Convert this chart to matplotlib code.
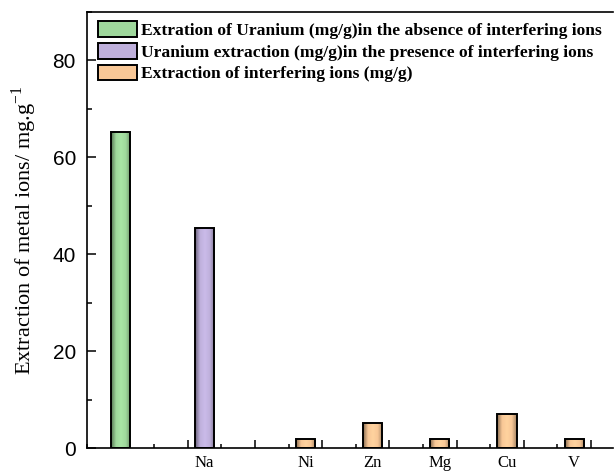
import numpy as np
import matplotlib
matplotlib.use("Agg")
import matplotlib.pyplot as plt
from matplotlib.patches import Patch
from matplotlib.colors import LinearSegmentedColormap
from matplotlib.ticker import MultipleLocator

# extraction values (mg/g)
u_absent = 65.3
u_present = 45.5
ion_names = ["Ni", "Zn", "Mg", "Cu", "V"]
ion_values = [1.8, 5.1, 1.8, 7.0, 1.8]

labels = ["Extration of Uranium (mg/g)in the absence of interfering ions",
          "Uranium extraction (mg/g)in the presence of interfering ions",
          "Extraction of interfering ions (mg/g)"]

green = "#9fd89c"
purple = "#bfb0dc"
orange = "#f8c796"

# slot layout along the x axis
pos_absent = 0.0
pos_present = 2.5
pos_ions = [5.5, 7.5, 9.5, 11.5, 13.5]
width = 0.57


def shaded(ax, bars, color):
    # cylinder-like shading inside each bar
    base = np.array(matplotlib.colors.to_rgb(color))
    dark = base * 0.55
    light = np.minimum(base * 1.06, 1)
    cmap = LinearSegmentedColormap.from_list("sh", [dark, base, light, base, dark * 1.2])
    grad = np.linspace(0, 1, 64).reshape(1, -1)
    for b in bars:
        x0, y0 = b.get_x(), b.get_y()
        im = ax.imshow(grad, cmap=cmap, aspect="auto", interpolation="bilinear",
                       extent=(x0, x0 + b.get_width(), y0, y0 + b.get_height()),
                       zorder=2)
        im.set_clip_path(b)


fig = plt.figure(figsize=(6.15, 4.72), dpi=100)
ax = fig.add_axes([0.1415, 0.0508, 0.855, 0.9237])

b1 = ax.bar([pos_absent], [u_absent], width, color=green, edgecolor="black", linewidth=1.4, zorder=3)
b2 = ax.bar([pos_present], [u_present], width, color=purple, edgecolor="black", linewidth=1.4, zorder=3)
b3 = ax.bar(pos_ions, ion_values, width, color=orange, edgecolor="black", linewidth=1.4, zorder=3)
for bars, c in [(b1, green), (b2, purple), (b3, orange)]:
    for b in bars:
        b.set_facecolor("none")
    shaded(ax, bars, c)

ax.set_xlim(-1, 14.65)
ax.set_ylim(0, 90)

ax.spines["right"].set_visible(False)
for s in ["left", "bottom", "top"]:
    ax.spines[s].set_linewidth(1.2)

ax.yaxis.set_major_locator(MultipleLocator(20))
ax.yaxis.set_minor_locator(MultipleLocator(10))
ax.tick_params(axis="y", which="major", direction="in", length=6.5, width=1.1, pad=8,
               labelsize=15, right=False)
ax.tick_params(axis="y", which="minor", direction="in", length=3.6, width=1.1, right=False)
for t in ax.get_yticklabels():
    t.set_fontfamily("Liberation Sans")

ax.xaxis.set_major_locator(MultipleLocator(2))
ax.xaxis.set_minor_locator(MultipleLocator(1))
ax.tick_params(axis="x", which="major", direction="in", length=5.8, width=1.1, labelbottom=False, top=False)
ax.tick_params(axis="x", which="minor", direction="in", length=2.9, width=1.1, top=False)

sec = ax.secondary_xaxis("bottom")
sec.set_xticks([pos_present] + pos_ions, labels=["Na"] + ion_names)
sec.tick_params(length=0, pad=5, labelsize=12)
sec.spines["bottom"].set_visible(False)
for t in sec.get_xticklabels():
    t.set_fontfamily("Liberation Serif")

ax.set_ylabel("Extraction of metal ions/ mg.g$^{\\mathregular{-1}}$", fontsize=16,
              fontfamily="Liberation Serif", labelpad=10)

handles = [Patch(facecolor=green, edgecolor="black", linewidth=1.4),
           Patch(facecolor=purple, edgecolor="black", linewidth=1.4),
           Patch(facecolor=orange, edgecolor="black", linewidth=1.4)]
ax.legend(handles, labels, loc="upper left", bbox_to_anchor=(0.021, 0.979),
          frameon=False, borderaxespad=0, borderpad=0,
          handlelength=2.2, handleheight=1.0, handletextpad=0.25, labelspacing=0.22,
          prop={"family": "Liberation Serif", "weight": "bold", "size": 12.6})

fig.savefig("out.png", dpi=100)
